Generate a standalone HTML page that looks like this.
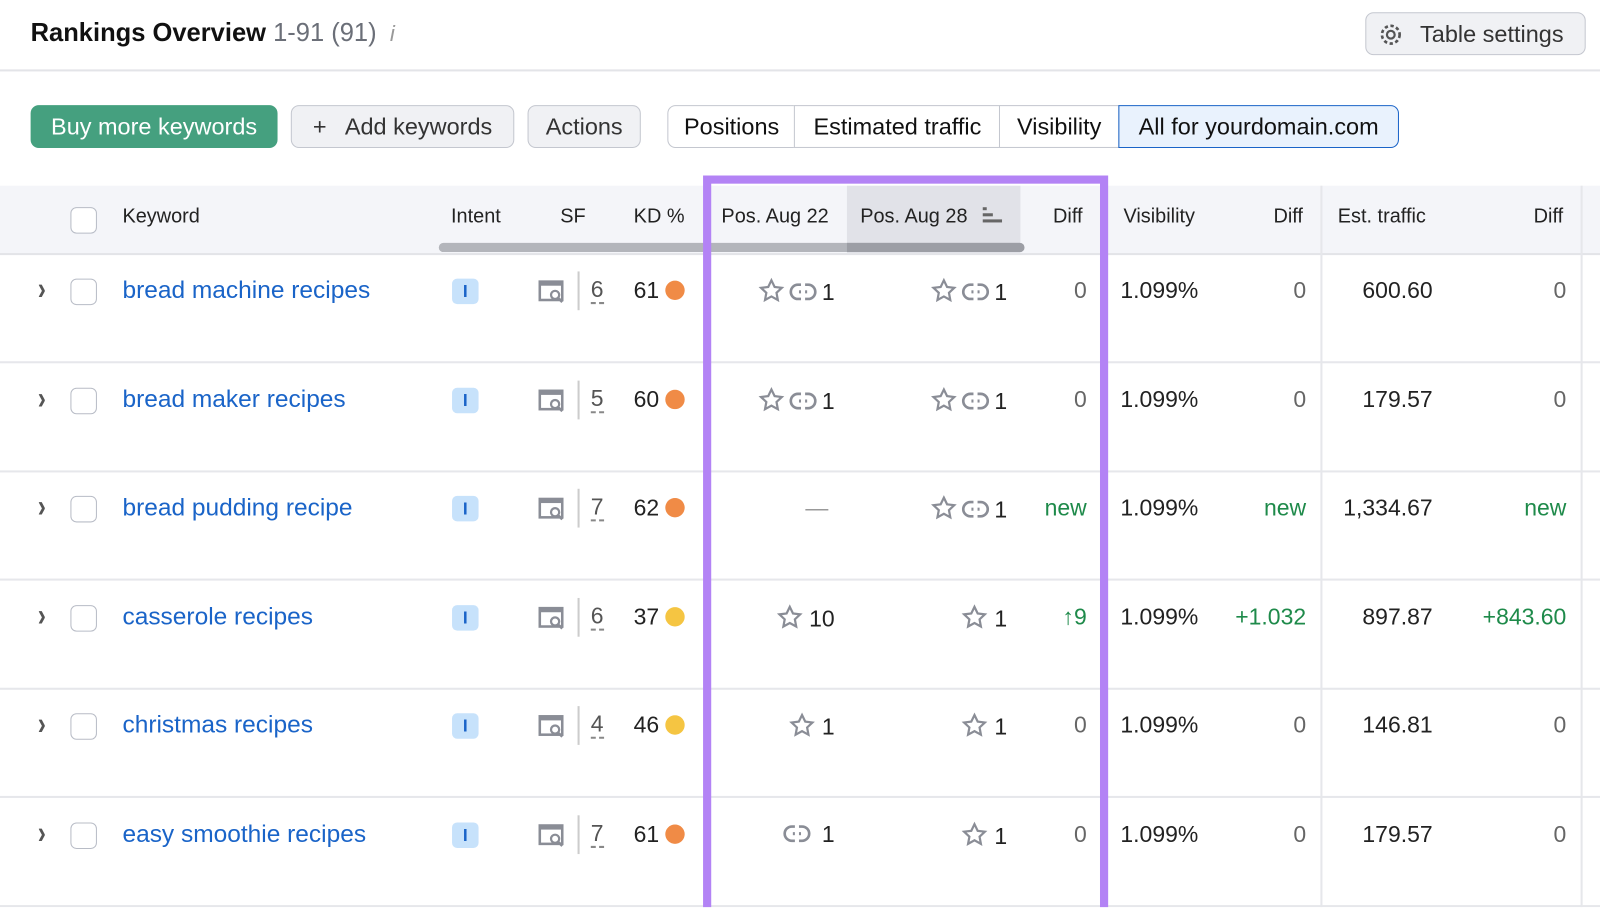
<!DOCTYPE html>
<html style="overflow:hidden;height:908px"><head><meta charset="utf-8"><style>
body{margin:0;width:1600px;height:908px;background:#fff;font-family:"Liberation Sans",sans-serif;position:relative;overflow:hidden;color:#222}
#w{position:absolute;left:0;top:0;width:1600px;height:889px;overflow:hidden;transform:scale(1.0204);transform-origin:0 0}
.a{position:absolute;white-space:nowrap}
.btn{position:absolute;height:42px;border:1.5px solid #c4c7cf;border-radius:8px;background:#f0f1f4;font-size:23px;line-height:40px;box-sizing:border-box;color:#333;text-align:center}
.h{font-size:19.5px;color:#222;top:201px}
.r{text-align:right}
.kw{color:#1a64c8;font-size:24px}
.cb{position:absolute;width:24px;height:24px;border:1.5px solid #b8bcc6;border-radius:6px;background:#fff}
.ib{position:absolute;width:26px;height:25px;background:#c7e2fb;border-radius:5px;color:#1a64c8;font-size:17px;text-align:center;line-height:25px;font-weight:bold}
.dot{position:absolute;width:19px;height:19px;border-radius:50%}
</style></head><body><div id="w">
<div class="a" style="left:30px;top:18px;font-size:25px;font-weight:bold;color:#111">Rankings Overview <span style="font-weight:normal;color:#6b6f78">1-91 (91)</span> <span style="font-weight:normal;font-style:italic;color:#999;font-size:22px">&nbsp;i</span></div>
<div class="btn" style="left:1338px;top:12px;width:216px;background:#f0f1f4">&nbsp;&nbsp;&nbsp;&nbsp;&nbsp;Table settings</div>
<svg class="a" style="left:1350px;top:21px" width="26" height="26" viewBox="0 0 24 24"><circle cx="12" cy="12" r="3.5" fill="none" stroke="#555" stroke-width="2"/><circle cx="12" cy="12" r="8" fill="none" stroke="#555" stroke-width="2.4" stroke-dasharray="3 2.3"/></svg>
<div class="a" style="left:0;top:68px;width:1600px;height:2px;background:#e3e4e8"></div>
<div class="btn" style="left:30px;top:103px;width:242px;background:#45a07f;border-color:#45a07f;color:#fff">Buy more keywords</div>
<div class="btn" style="left:285px;top:103px;width:219px">+&nbsp;&nbsp; Add keywords</div>
<div class="btn" style="left:517px;top:103px;width:111px">Actions</div>
<div class="btn" style="left:654px;top:103px;width:126px;background:#fff;border-radius:8px 0 0 8px;color:#111">Positions</div>
<div class="btn" style="left:778px;top:103px;width:203px;background:#fff;border-radius:0;color:#111">Estimated traffic</div>
<div class="btn" style="left:979px;top:103px;width:118px;background:#fff;border-radius:0;color:#111">Visibility</div>
<div class="btn" style="left:1096px;top:103px;width:275px;background:#e9f2fd;border-color:#1a64c8;border-radius:0 8px 8px 0;color:#111">All for yourdomain.com</div>

<div class="a" style="left:0;top:182px;width:1600px;height:66px;background:#f4f5f9;border-bottom:2px solid #e3e4e8"></div>
<div class="a" style="left:830px;top:182px;width:170px;height:66px;background:#e1e2e8"></div>
<div class="a" style="left:430px;top:238px;width:574px;height:9px;background:#b3b5bb;border-radius:5px"></div>
<div class="a" style="left:830px;top:238px;width:174px;height:9px;background:#9c9ea5;border-radius:0 5px 5px 0"></div>
<div class="cb" style="left:69px;top:203px"></div>
<div class="a h" style="left:120px">Keyword</div>
<div class="a h" style="left:442px">Intent</div>
<div class="a h" style="left:549px">SF</div>
<div class="a h" style="left:621px">KD %</div>
<div class="a h" style="left:707px">Pos. Aug 22</div>
<div class="a h" style="left:843px">Pos. Aug 28</div>
<svg class="a" style="left:963px;top:203px" width="20" height="16"><rect x="0" y="0" width="4" height="3" fill="#666"/><rect x="0" y="6" width="10" height="3" fill="#666"/><rect x="0" y="12" width="19" height="3" fill="#666"/></svg>
<div class="a h" style="left:1032px">Diff</div>
<div class="a h" style="left:1101px">Visibility</div>
<div class="a h" style="left:1248px">Diff</div>
<div class="a h" style="left:1311px">Est. traffic</div>
<div class="a h" style="left:1503px">Diff</div>
<div class="a" style="left:1294px;top:182px;width:2px;height:726px;background:#e6e7eb"></div>
<div class="a" style="left:1549px;top:182px;width:2px;height:726px;background:#e6e7eb"></div>

<div id="rows"></div>
<div class="a" style="left:689px;top:172px;width:381px;height:780px;border:8px solid #b383f5"></div>
</div>
<script>
const star='<svg width="26" height="26" viewBox="0 0 24 24" style="vertical-align:-4px"><path d="M12 2.5l2.9 6 6.5.8-4.8 4.5 1.2 6.5L12 17.1l-5.8 3.2 1.2-6.5L2.6 9.3l6.5-.8z" fill="none" stroke="#8a8d96" stroke-width="2"/></svg>';
const link='<svg width="28" height="22" viewBox="0 0 28 22" style="vertical-align:-3px;margin-left:4px;margin-right:4px"><rect x="2" y="4" width="24" height="14" rx="7" fill="none" stroke="#8a8d96" stroke-width="2.6"/><rect x="10" y="9.5" width="8" height="3" fill="#8a8d96"/><rect x="12" y="2" width="4" height="18" fill="#fff"/></svg>';
const data=[
["bread machine recipes","6","61","#f08b46",star+link+"1",star+link+"1","0","0","600.60","0"],
["bread maker recipes","5","60","#f08b46",star+link+"1",star+link+"1","0","0","179.57","0"],
["bread pudding recipe","7","62","#f08b46",'<span style="color:#999">—</span>&nbsp;',star+link+"1","new","new","1,334.67","new"],
["casserole recipes","6","37","#f5c542",star+" 10",star+" 1","↑9","+1.032","897.87","+843.60"],
["christmas recipes","4","46","#f5c542",star+" 1",star+" 1","0","0","146.81","0"],
["easy smoothie recipes","7","61","#f08b46",link+" 1",star+" 1","0","0","179.57","0"]];
let h='';
data.forEach((d,i)=>{const y=248+i*106.6;const t=y+24;
const gc=(v)=>(v=="0"?'color:#666':'color:#1e8a4a');
h+=`<div class="a" style="left:0;top:${y+106}px;width:1600px;height:2px;background:#e6e7eb"></div>
<div class="a" style="left:37px;top:${t-2}px;font-size:24px;font-weight:bold;color:#555;transform:scaleY(1.3)">›</div>
<div class="cb" style="left:69px;top:${t+1}px"></div>
<div class="a kw" style="left:120px;top:${t-1}px">${d[0]}</div>
<div class="ib" style="left:443px;top:${t+1}px">I</div>
<svg class="a" style="left:527px;top:${t+1}px" width="28" height="26"><rect x="2" y="3" width="22" height="18" fill="none" stroke="#8a8d96" stroke-width="2.5"/><rect x="2" y="3" width="22" height="4" fill="#8a8d96"/><circle cx="17" cy="16" r="4" fill="#fff" stroke="#8a8d96" stroke-width="2.2"/><line x1="20" y1="19" x2="24" y2="23" stroke="#8a8d96" stroke-width="2.5"/></svg>
<div class="a" style="left:566px;top:${t-6}px;width:1.5px;height:38px;background:#ccc"></div>
<div class="a" style="left:579px;top:${t}px;font-size:22.5px;color:#555;border-bottom:2px dashed #888;line-height:24px">${d[1]}</div>
<div class="a" style="left:621px;top:${t}px;font-size:22.5px">${d[2]}</div>
<div class="dot" style="left:652px;top:${t+3}px;background:${d[3]}"></div>
<div class="a r" style="right:782px;top:${t}px;font-size:22.5px">${d[4]}</div>
<div class="a r" style="right:613px;top:${t}px;font-size:22.5px">${d[5]}</div>
<div class="a r" style="right:535px;top:${t}px;font-size:22.5px;${gc(d[6])}">${d[6]}</div>
<div class="a" style="left:1098px;top:${t}px;font-size:22.5px">1.099%</div>
<div class="a r" style="right:320px;top:${t}px;font-size:22.5px;${gc(d[7])}">${d[7]}</div>
<div class="a r" style="right:196px;top:${t}px;font-size:22.5px">${d[8]}</div>
<div class="a r" style="right:65px;top:${t}px;font-size:22.5px;${gc(d[9])}">${d[9]}</div>`;});
document.getElementById('rows').innerHTML=h;
</script>
</body></html>
